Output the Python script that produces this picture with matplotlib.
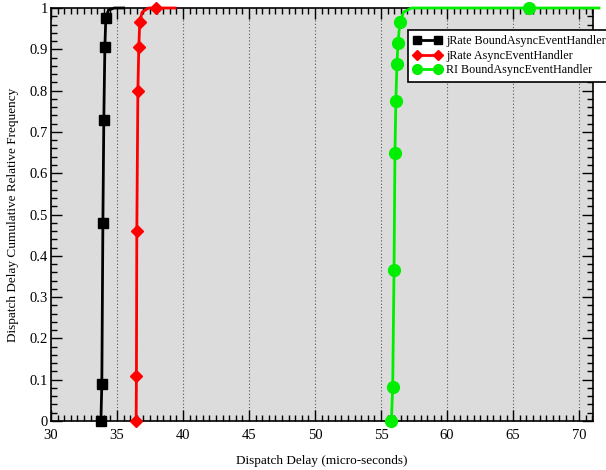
import matplotlib
matplotlib.use("Agg")
import matplotlib.pyplot as plt
from matplotlib.ticker import MultipleLocator
from matplotlib.lines import Line2D

plt.rcParams['font.family'] = ['Liberation Serif', 'DejaVu Serif']

# Series: (x, y) including line-only points; markers at marker indices
jrate_bound_x = [33.78, 33.85, 33.93, 34.0, 34.08, 34.15, 34.35, 34.8, 35.5]
jrate_bound_y = [0.0, 0.09, 0.48, 0.73, 0.905, 0.975, 0.995, 1.0, 1.0]
jrate_bound_marks = [0, 1, 2, 3, 4, 5]

jrate_async_x = [36.45, 36.47, 36.5, 36.58, 36.65, 36.72, 36.9, 37.4, 37.95, 39.4]
jrate_async_y = [0.0, 0.11, 0.46, 0.80, 0.905, 0.965, 0.99, 1.0, 1.0, 1.0]
jrate_async_marks = [0, 1, 2, 3, 4, 5, 8]

ri_bound_x = [55.78, 55.88, 55.98, 56.05, 56.12, 56.2, 56.28, 56.42, 56.7, 57.3, 66.2, 71.5]
ri_bound_y = [0.0, 0.083, 0.365, 0.65, 0.775, 0.865, 0.915, 0.965, 0.99, 1.0, 1.0, 1.0]
ri_bound_marks = [0, 1, 2, 3, 4, 5, 6, 7, 10]

labels = ["jRate BoundAsyncEventHandler", "jRate AsyncEventHandler", "RI BoundAsyncEventHandler"]

fig = plt.figure(figsize=(6.06, 4.70), dpi=100)
ax = fig.add_axes([51/606, 1-421/470, (593-51)/606, (421-8)/470])
ax.set_facecolor('#dcdcdc')

ax.plot(jrate_bound_x, jrate_bound_y, color='black', lw=2, marker='s', ms=7.5,
        markevery=jrate_bound_marks, clip_on=False, zorder=3)
ax.plot(jrate_async_x, jrate_async_y, color='#ff0000', lw=2, marker='D', ms=6.5,
        markevery=jrate_async_marks, clip_on=False, zorder=3)
ax.plot(ri_bound_x, ri_bound_y, color='#00ee00', lw=2, marker='o', ms=8.5,
        markevery=ri_bound_marks, clip_on=False, zorder=3)

ax.set_xlim(30, 71.05)
ax.set_ylim(0, 1)
ax.xaxis.set_major_locator(MultipleLocator(5))
ax.xaxis.set_minor_locator(MultipleLocator(0.5))
ax.yaxis.set_minor_locator(MultipleLocator(0.02))
ax.set_yticks([0, 0.1, 0.2, 0.3, 0.4, 0.5, 0.6, 0.7, 0.8, 0.9, 1.0])
ax.set_yticklabels(["0", "0.1", "0.2", "0.3", "0.4", "0.5", "0.6", "0.7", "0.8", "0.9", "1"])
ax.tick_params(which='both', direction='in', top=True, right=True, labelsize=10.5, width=1)
ax.tick_params(which='major', length=8)
ax.tick_params(which='minor', length=4)
ax.tick_params(axis='x', pad=6)
ax.tick_params(axis='y', pad=2)
ax.grid(axis='x', which='major', color='#555555', linestyle=(0, (1, 2)), lw=0.8)
for s in ax.spines.values():
    s.set_linewidth(1.2)

ax.set_xlabel("Dispatch Delay (micro-seconds)", fontsize=9.5, labelpad=9)
ax.set_ylabel("Dispatch Delay Cumulative Relative Frequency", fontsize=9.5, labelpad=8)

handles = [
    Line2D([], [], color='black', lw=2, marker='s', ms=6),
    Line2D([], [], color='#ff0000', lw=2, marker='D', ms=5.5),
    Line2D([], [], color='#00ee00', lw=2, marker='o', ms=7),
]
leg = fig.legend(handles, labels, loc='upper left', bbox_to_anchor=(408/606, 1-30/470),
                 fontsize=8.7, frameon=True, fancybox=False, framealpha=1,
                 edgecolor='black', handlelength=2.3, handletextpad=0.4,
                 borderpad=0.45, labelspacing=0.2, borderaxespad=0, numpoints=2)
leg.get_frame().set_linewidth(1.2)

fig.savefig("out.png", dpi=100)
